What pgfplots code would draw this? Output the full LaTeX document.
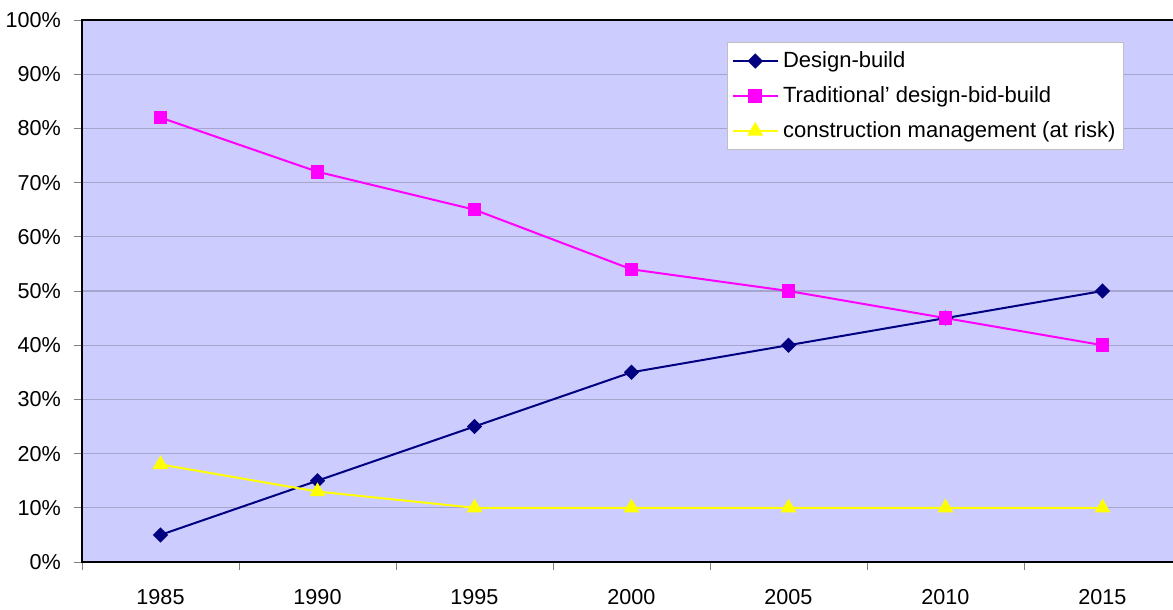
\documentclass[border=0pt]{standalone}
\usepackage{pgfplots}
\pgfplotsset{compat=1.18}
\usepackage{fontspec}
\setmainfont{Liberation Sans}
\definecolor{bgc}{RGB}{204,204,255}
\definecolor{gridc}{RGB}{165,165,205}
\definecolor{navyc}{RGB}{0,0,128}
\definecolor{magc}{RGB}{255,0,255}
\definecolor{yelc}{RGB}{255,255,0}
\begin{document}
\begin{tikzpicture}
\begin{axis}[
  name=ax,
  scale only axis,
  width=549.5pt, height=271pt,
  xmin=-0.5, xmax=6.5, ymin=0, ymax=100,
  axis background/.style={fill=bgc},
  axis line style={black, line width=1.2pt},
  xtick pos=bottom, ytick pos=left,
  xtick={0,1,2,3,4,5,6},
  xticklabels={1985,1990,1995,2000,2005,2010,2015},
  major x tick style={draw=none},
  minor xtick={-0.5,0.5,1.5,2.5,3.5,4.5,5.5,6.5},
  minor x tick style={gray, line width=0.4pt},
  minor tick length=4pt,
  ytick={0,10,...,100},
  yticklabel={\pgfmathprintnumber{\tick}\%},
  ytick style={gray, line width=0.4pt},
  major tick length=4pt,
  tick align=outside,
  ymajorgrids,
  major grid style={gridc, line width=0.6pt},
  tick label style={font=\fontsize{10.8pt}{12pt}\selectfont},
  /pgf/number format/assume math mode=true,
  xticklabel style={yshift=-6pt},
  yticklabel style={xshift=-3pt},
  legend cell align=left,
  legend style={at={(0.587,0.959)}, anchor=north west, fill=white, draw=gray!50,
    font=\fontsize{11pt}{12pt}\selectfont, row sep=4pt, inner xsep=2pt, inner ysep=2.5pt},
  legend image code/.code={\draw[mark repeat=2,mark phase=2,#1] plot coordinates {(0cm,0cm)(0.4cm,0cm)(0.8cm,0cm)};},
]
\addplot[navyc, line width=1pt, mark=square*, mark size=2.2pt, mark options={fill=navyc, draw=navyc, rotate=45}]
  coordinates {(0,5) (1,15) (2,25) (3,35) (4,40) (5,45) (6,50)};
\addlegendentry{Design-build}
\addplot[magc, line width=1pt, mark=square*, mark size=2.9pt, mark options={fill=magc, draw=magc}]
  coordinates {(0,82) (1,72) (2,65) (3,54) (4,50) (5,45) (6,40)};
\addlegendentry{Traditional' design-bid-build}
\addplot[yelc, line width=1pt, mark=triangle*, mark size=3.6pt, mark options={fill=yelc, draw=yelc}]
  coordinates {(0,18) (1,13) (2,10) (3,10) (4,10) (5,10) (6,10)};
\addlegendentry{construction management (at risk)}
\end{axis}
\pgfresetboundingbox
\useasboundingbox ([xshift=-41pt, yshift=-24pt]ax.south west) rectangle ([xshift=545.5pt, yshift=10pt]ax.north west);
\end{tikzpicture}
\end{document}
